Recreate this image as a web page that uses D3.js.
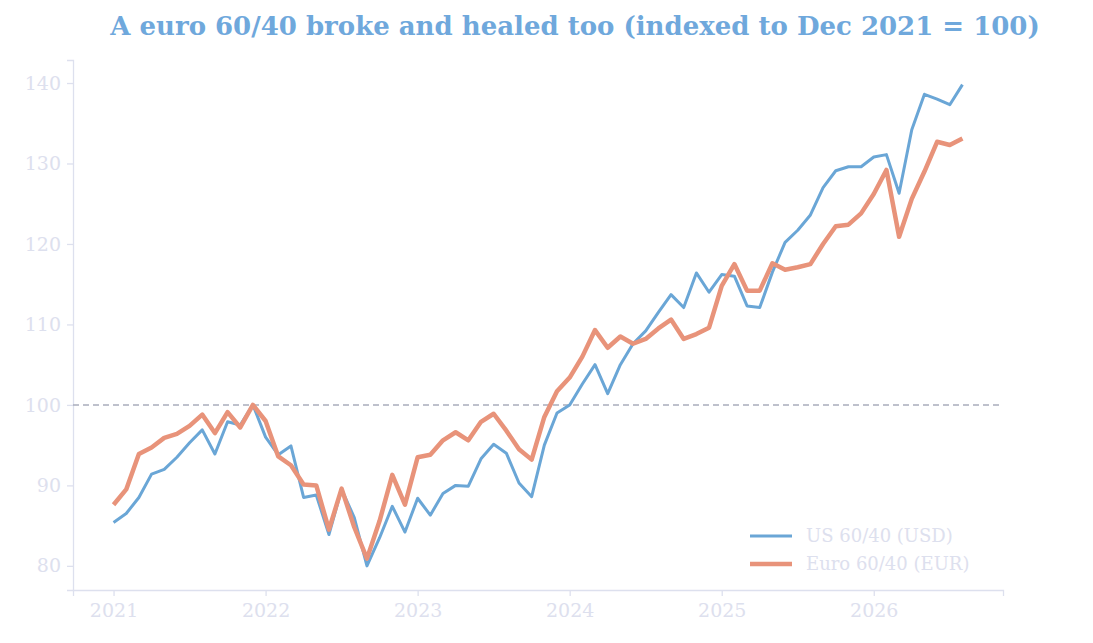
<!DOCTYPE html><html><head><meta charset="utf-8"><script src="https://cdn.jsdelivr.net/npm/d3@7"></script>
<style>body{margin:0;background:#fff}text{font-family:"DejaVu Serif",serif}</style></head><body><svg id="c" width="1093" height="643"></svg>
<script>
const startYear=2021;
const us=[85.4,86.5,88.5,91.4,92.0,93.5,95.3,96.9,93.9,97.9,97.5,100.0,96.0,93.8,94.9,88.5,88.8,83.9,89.5,86.0,80.0,83.5,87.4,84.2,88.4,86.3,89.0,90.0,89.9,93.3,95.1,94.0,90.3,88.6,95.0,99.0,100.0,102.6,105.0,101.4,105.0,107.6,109.2,111.5,113.7,112.1,116.4,114.0,116.2,116.0,112.3,112.1,116.5,120.2,121.7,123.6,127.0,129.1,129.6,129.6,130.8,131.1,126.3,134.2,138.6,138.0,137.3,139.8];
const eu=[87.6,89.5,93.9,94.7,95.9,96.4,97.4,98.8,96.5,99.1,97.2,100.0,98.0,93.6,92.5,90.1,90.0,84.5,89.6,84.8,80.9,85.6,91.3,87.6,93.5,93.8,95.6,96.6,95.6,97.9,98.9,96.8,94.5,93.2,98.5,101.7,103.4,106.0,109.3,107.1,108.5,107.6,108.2,109.5,110.6,108.2,108.8,109.6,114.8,117.5,114.2,114.2,117.6,116.8,117.1,117.5,120.0,122.2,122.4,123.8,126.2,129.2,120.9,125.6,129.0,132.7,132.3,133.1];
const yTicks=[80,90,100,110,120,130,140];
const xTicks=[2021,2022,2023,2024,2025,2026];
const seriesNames=["US 60/40 (USD)","Euro 60/40 (EUR)"];
const svg=d3.select("#c");
const x=d3.scaleLinear().domain([-3.2,70.2]).range([73,1003]);
const y=d3.scaleLinear().domain([77.0,142.86]).range([590,60]);
const tc="#dde0ee";
svg.append("text").attr("x",575).attr("y",35).attr("text-anchor","middle").attr("font-size",26).attr("font-weight","bold").attr("fill","#6fa8dc").text("A euro 60/40 broke and healed too (indexed to Dec 2021 = 100)");
const ya=svg.append("g").attr("transform","translate(73,0)").call(d3.axisLeft(y).tickValues(yTicks).tickSize(6).tickPadding(6));
const xa=svg.append("g").attr("transform","translate(0,590)").call(d3.axisBottom(x).tickValues(xTicks.map(t=>(t-startYear)*12)).tickFormat((d)=>startYear+d/12).tickSize(6).tickPadding(8));
[ya,xa].forEach(a=>{a.selectAll("path,line").attr("stroke",tc).attr("stroke-width",1.3);a.selectAll("text").attr("fill",tc).attr("font-size",19).attr("font-family","DejaVu Serif");});
svg.append("line").attr("x1",73).attr("x2",1003).attr("y1",y(100)).attr("y2",y(100)).attr("stroke","#a9adbc").attr("stroke-width",1.5).attr("stroke-dasharray","6,4");
const line=d3.line().x((d,i)=>x(i)).y(d=>y(d));
const cols=["#6aa6d6","#e8937a"],ws=[3,4.5];
[us,eu].forEach((s,k)=>svg.append("path").datum(s).attr("d",line).attr("fill","none").attr("stroke",cols[k]).attr("stroke-width",ws[k]).attr("stroke-linejoin","round"));
seriesNames.forEach((n,k)=>{const yy=536+k*28;svg.append("line").attr("x1",750).attr("x2",792).attr("y1",yy).attr("y2",yy).attr("stroke",cols[k]).attr("stroke-width",ws[k]);
svg.append("text").attr("x",806).attr("y",yy+6).attr("font-size",18).attr("fill",tc).text(n);});
</script></body></html>
